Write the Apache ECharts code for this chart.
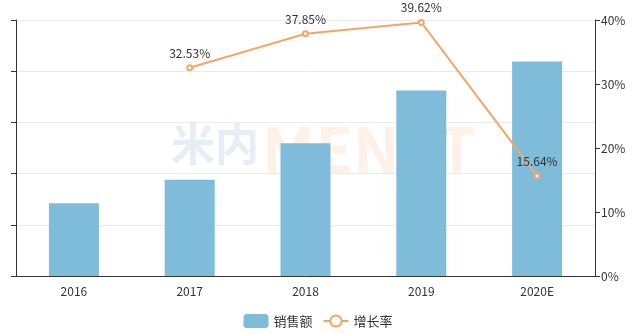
<!DOCTYPE html>
<html><head><meta charset="utf-8">
<script src="https://cdn.jsdelivr.net/npm/echarts@6/dist/echarts.min.js"></script>
<style>html,body{margin:0;padding:0;background:#fff}#c{width:636px;height:334px}</style>
</head><body><div id="c"></div>
<script>
const categories = ['2016','2017','2018','2019','2020E'];
const sales = [71.0, 94.1, 129.7, 181.1, 209.4];
const growth = [null, 32.53, 37.85, 39.62, 15.64];
const rateTicks = [0, 10, 20, 30, 40];

const chart = echarts.init(document.getElementById('c'));
const font = '"Noto Sans CJK SC", "Noto Sans", sans-serif';
chart.setOption({
  animation: false,
  textStyle: {fontFamily: font},
  graphic: [{
    type: 'text', left: 171, top: 122, z: 0, silent: true,
    style: {text: '米内', font: 'bold 44px ' + font, fill: 'rgba(160,195,220,0.28)'}
  }, {
    type: 'text', left: 262, top: 118, z: 0, silent: true,
    style: {text: 'MENET', font: 'bold 62px ' + font, fill: 'rgba(250,190,140,0.2)'}
  }],
  legend: {
    bottom: 1, left: 'center', itemWidth: 25, itemHeight: 14, itemGap: 10,
    textStyle: {color: '#333', fontSize: 13, fontFamily: font},
    data: [{name: '销售额', icon: 'roundRect'}, {name: '增长率'}]
  },
  grid: {left: 16, right: 41, top: 20, bottom: 58},
  xAxis: {
    type: 'category', data: categories,
    axisLine: {lineStyle: {color: '#333'}},
    axisTick: {lineStyle: {color: '#333'}},
    axisLabel: {color: '#333', fontSize: 12, margin: 9}
  },
  yAxis: [{
    type: 'value', min: 0, max: 250, interval: 50,
    axisLine: {show: true, lineStyle: {color: '#333'}},
    axisTick: {show: true, lineStyle: {color: '#333'}},
    axisLabel: {show: false},
    splitLine: {lineStyle: {color: '#ebebeb'}}
  }, {
    type: 'value', min: rateTicks[0], max: rateTicks[rateTicks.length-1], interval: 10,
    position: 'right',
    axisLine: {show: true, lineStyle: {color: '#333'}},
    axisTick: {show: true, lineStyle: {color: '#333'}},
    axisLabel: {color: '#333', fontSize: 12, formatter: '{value}%', margin: 6},
    splitLine: {show: false}
  }],
  series: [{
    name: '销售额', type: 'bar', data: sales, barWidth: 50, z: 2,
    itemStyle: {color: '#7fbcd9'}
  }, {
    name: '增长率', type: 'line', yAxisIndex: 1, data: growth, z: 3,
    symbol: 'emptyCircle', symbolSize: 5, connectNulls: false,
    lineStyle: {color: '#f0a868', width: 2},
    itemStyle: {color: '#f0a868'},
    label: {show: true, position: 'top', color: '#333', fontSize: 12, formatter: p => p.value.toFixed(2) + '%'}
  }]
});
</script></body></html>
